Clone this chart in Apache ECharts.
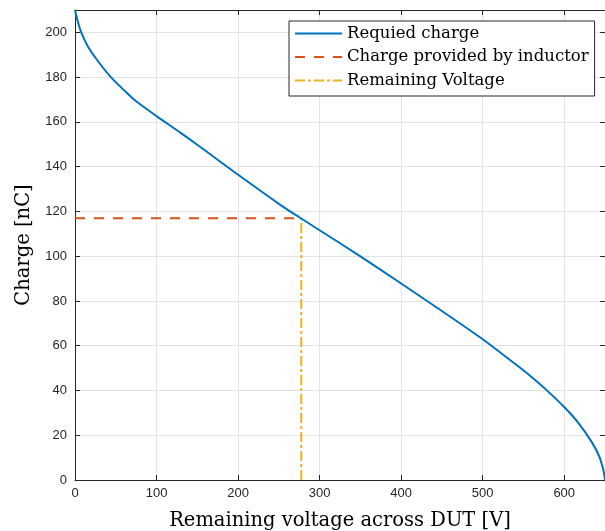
<!DOCTYPE html>
<html style="height: 100%">
<head>
  <meta charset="utf-8">
</head>
<body style="height: 100%; margin: 0; background: #fff">
  <div id="container" style="height: 100%"></div>
  <script type="text/javascript" src="https://cdn.jsdelivr.net/npm/echarts@6/dist/echarts.min.js"></script>
  <script type="text/javascript">
    // remaining voltage [V] and required charge [nC]
    var voltage = [0, 3, 7.5, 16, 28.5, 44, 60, 75, 100, 130, 150, 175, 200, 250, 275,
      300, 350, 400, 450, 500, 540, 557, 577, 600, 618, 634, 643, 647.5, 649.5, 650];
    var charge = [210, 205.5, 200.1, 193.6, 187, 180, 174.2, 169.2, 162.6, 155, 149.8, 143.1,
      136.4, 123.4, 117.4, 111.6, 99.9, 87.8, 75.5, 62.9, 51.8, 46.9, 40.6, 32.6, 25.2,
      16.8, 10.5, 5.2, 1.5, 0];
    // operating point
    var opVoltage = 277.5;
    var opCharge = 117;
    var seriesNames = ['Requied charge', 'Charge provided by inductor', 'Remaining Voltage'];

    var axisColor = '#262626';
    var gridColor = '#e3e3e3';
    var serif = '"DejaVu Serif", serif';
    var sans = '"Liberation Sans", Arial, sans-serif';

    var myChart = echarts.init(document.getElementById('container'));
    myChart.setOption({
      animation: false,
      // v6 would otherwise squeeze the grid to keep axis names inside
      grid: { left: 75, top: 10, right: 0, bottom: 51, containLabel: false, outerBoundsMode: 'none' },
      legend: {
        orient: 'vertical',
        left: 289,
        top: 21,
        data: seriesNames,
        itemWidth: 47,
        itemHeight: 14,
        itemGap: 6.5,
        padding: [4, 6, 7, 5],
        borderColor: axisColor,
        borderWidth: 1,
        backgroundColor: '#fff',
        itemStyle: { opacity: 0 },
        textStyle: { fontFamily: serif, fontSize: 16.5, color: '#000' }
      },
      xAxis: [{
        type: 'value', min: 0, max: 650, interval: 100,
        name: 'Remaining voltage across DUT [V]',
        nameLocation: 'middle', nameGap: 31,
        nameTextStyle: { fontFamily: serif, fontSize: 19.5, color: '#000' },
        axisLine: { onZero: false, lineStyle: { color: axisColor } },
        axisTick: { inside: true, length: 5, lineStyle: { color: axisColor } },
        axisLabel: { color: axisColor, fontFamily: sans, fontSize: 13, margin: 7, showMaxLabel: false },
        splitLine: { lineStyle: { color: gridColor } }
      }, {
        type: 'value', min: 0, max: 650, interval: 100, position: 'top',
        axisLine: { onZero: false, lineStyle: { color: axisColor } },
        axisTick: { inside: true, length: 5, lineStyle: { color: axisColor } },
        axisLabel: { show: false },
        splitLine: { show: false }
      }],
      yAxis: [{
        type: 'value', min: 0, max: 210, interval: 20,
        name: 'Charge [nC]',
        nameLocation: 'middle', nameGap: 41,
        nameTextStyle: { fontFamily: serif, fontSize: 19.5, color: '#000' },
        axisLine: { show: true, onZero: false, lineStyle: { color: axisColor } },
        axisTick: { show: true, inside: true, length: 5, lineStyle: { color: axisColor } },
        axisLabel: { color: axisColor, fontFamily: sans, fontSize: 13, margin: 8, showMaxLabel: false },
        splitLine: { lineStyle: { color: gridColor } }
      }, {
        type: 'value', min: 0, max: 210, interval: 20, position: 'right',
        axisLine: { show: true, onZero: false, lineStyle: { color: axisColor } },
        axisTick: { show: true, inside: true, length: 5, lineStyle: { color: axisColor } },
        axisLabel: { show: false },
        splitLine: { show: false }
      }],
      series: [{
        name: seriesNames[0],
        type: 'line',
        symbol: 'none',
        smooth: 0.3,
        data: voltage.map(function (v, i) { return [v, charge[i]]; }),
        lineStyle: { color: '#0072BD', width: 2 },
        itemStyle: { color: '#0072BD' },
        z: 3
      }, {
        name: seriesNames[1],
        type: 'line',
        symbol: 'none',
        data: [[0, opCharge], [opVoltage, opCharge]],
        lineStyle: { color: '#D95319', width: 2, type: [10, 9] },
        itemStyle: { color: '#D95319' },
        z: 2
      }, {
        name: seriesNames[2],
        type: 'line',
        symbol: 'none',
        data: [[opVoltage, 0], [opVoltage, opCharge]],
        lineStyle: { color: '#EDB120', width: 2, type: [10, 3, 3, 3] },
        itemStyle: { color: '#EDB120' },
        z: 2
      }]
    });
  </script>
</body>
</html>
